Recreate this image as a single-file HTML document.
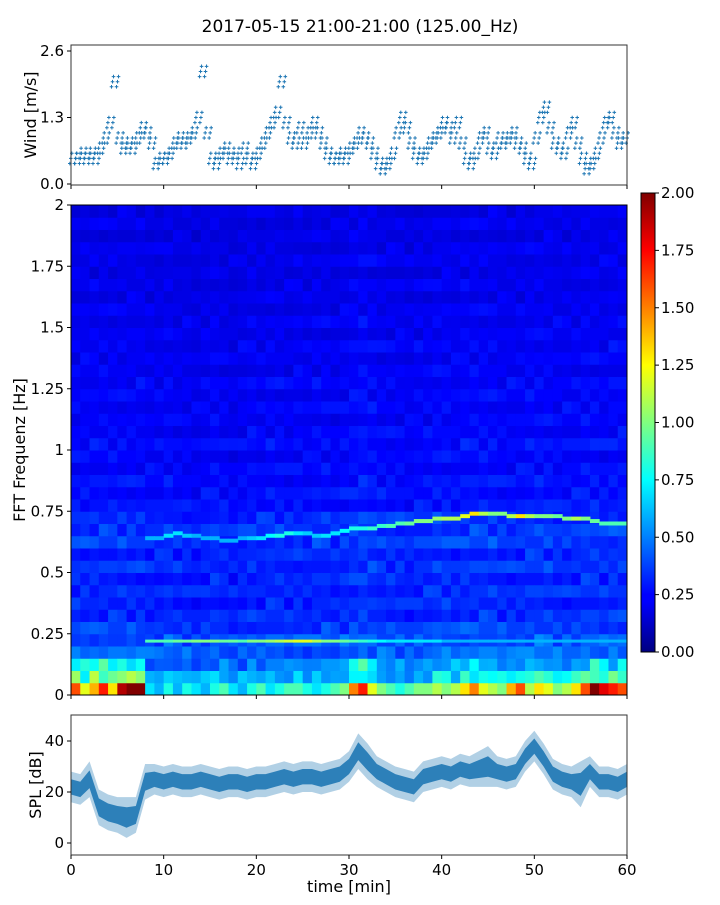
<!DOCTYPE html>
<html><head><meta charset="utf-8">
<style>
html,body{margin:0;padding:0;background:#fff;}
svg text{font-family:"DejaVu Sans","Liberation Sans",sans-serif;fill:#000;}
</style></head>
<body>
<svg id="fig" width="720" height="900" xmlns="http://www.w3.org/2000/svg">
<defs>
<linearGradient id="jetg" x1="0" y1="1" x2="0" y2="0">
<stop offset="0" stop-color="#000080"/><stop offset="0.11" stop-color="#0000ff"/>
<stop offset="0.125" stop-color="#0000ff"/><stop offset="0.375" stop-color="#00ffff"/>
<stop offset="0.625" stop-color="#ffff00"/><stop offset="0.875" stop-color="#ff0000"/>
<stop offset="1" stop-color="#800000"/></linearGradient>
</defs>
<text x="360" y="32" font-size="17" text-anchor="middle">2017-05-15 21:00-21:00 (125.00_Hz)</text>
<g id="topPanel"></g>
<g id="spec"></g>
<g id="cbar"></g>
<g id="bot"></g>
</svg>
<script>
// ---- data ----
const windValues=[0.5,0.5,0.6,0.5,0.6,0.5,0.7,0.9,1.2,2.0,0.9,0.7,0.8,0.7,0.9,1.1,1.0,0.8,0.4,0.5,
0.5,0.6,0.8,0.9,0.8,0.9,1.0,1.3,2.2,1.0,0.5,0.4,0.6,0.7,0.5,0.6,0.4,0.7,0.5,0.4,
0.6,0.8,1.0,1.2,1.4,2.0,1.2,0.9,0.8,1.1,0.8,1.0,1.2,1.0,0.8,0.6,0.5,0.5,0.6,0.5,
0.7,0.8,1.0,0.9,0.8,0.6,0.4,0.3,0.4,0.6,1.0,1.3,1.1,0.8,0.6,0.5,0.6,0.8,0.9,1.0,
1.2,1.1,0.9,1.2,0.8,0.5,0.4,0.6,0.9,1.0,0.7,0.6,0.9,0.8,0.9,1.0,0.8,0.7,0.5,0.4,
0.9,1.3,1.5,1.1,0.8,0.7,0.6,1.0,1.2,0.8,0.5,0.3,0.4,0.6,0.9,1.2,1.3,1.0,0.8,0.9];
const windTicks=[0.0,1.3,2.6];
const freqProfile=[1.0,0.6,0.5,0.42,0.4,0.35,0.33,0.32,0.33,0.32,0.34,0.32,0.36,0.35,0.34,0.28,0.28,0.27,0.26,0.25,
0.27,0.25,0.24,0.25,0.24,0.25,0.23,0.23,0.24,0.22,0.23,0.22,0.21,0.22,0.2,0.22,0.21,0.2,0.21,0.2];
const rowTexture=[1.0,1.1,0.9,1.15,0.85,1.05,0.95,1.2,0.8,1.1,1.0,0.9,1.15,0.85,1.0,1.1,0.9,1.05,0.8,1.2,
0.95,1.0,0.85,1.1,1.0,0.9,1.15,0.8,1.05,1.0,0.9,1.1,0.85,1.0,1.2,0.9,1.0,0.95,1.1,0.85];
const timeGain=[1.0,1.0,1.0,1.0,1.0,1.0,1.0,1.0,0.95,0.95,1.0,0.95,0.95,0.9,0.95,1.0,0.95,0.9,0.95,1.0,
0.95,1.0,1.0,0.95,1.0,0.95,1.0,1.0,0.95,1.0,1.05,1.1,1.05,1.0,1.0,1.0,0.95,1.0,1.0,1.05,
1.05,1.0,1.05,1.05,1.05,1.05,1.0,1.0,1.0,1.05,1.05,1.05,1.0,1.0,1.0,1.05,1.05,1.0,1.05,1.05];
const lowGain=[1.6,1.5,1.7,1.7,1.6,1.7,1.6,1.7,1.0,1.0,1.0,1.0,1.0,0.95,0.95,1.0,1.0,0.95,0.95,1.0,
1.0,1.0,1.0,1.0,1.05,1.0,1.0,1.0,1.05,1.1,1.3,1.4,1.2,1.1,1.0,1.0,1.0,1.05,1.1,1.1,
1.15,1.2,1.25,1.3,1.25,1.2,1.15,1.2,1.25,1.3,1.3,1.2,1.15,1.1,1.2,1.3,1.4,1.35,1.3,1.35];
const ridgeFreq=[0,0,0,0,0,0,0,0,0.64,0.64,0.65,0.66,0.65,0.65,0.64,0.64,0.63,0.63,0.64,0.64,
0.64,0.65,0.65,0.66,0.66,0.66,0.65,0.65,0.66,0.67,0.68,0.68,0.68,0.69,0.69,0.70,0.70,0.71,0.71,0.72,
0.72,0.72,0.73,0.74,0.74,0.74,0.74,0.73,0.73,0.73,0.73,0.73,0.73,0.72,0.72,0.72,0.71,0.70,0.70,0.70];
const ridgeLevel=[0,0,0,0,0,0,0,0,0.6,0.6,0.7,0.7,0.65,0.6,0.6,0.6,0.6,0.6,0.6,0.65,
0.7,0.75,0.8,0.8,0.7,0.65,0.65,0.7,0.7,0.75,0.8,0.8,0.85,0.85,0.9,0.9,0.95,1.0,1.0,1.05,
1.1,1.1,1.2,1.3,1.1,1.0,1.0,1.1,1.3,1.1,1.0,1.0,0.95,1.0,1.1,1.0,0.95,0.9,0.9,0.9];
const lowRidgeLevel=[0,0,0,0,0,0,0,0,0.9,0.9,0.9,0.95,0.95,1.0,1.0,1.0,0.95,0.95,0.9,1.0,
1.0,1.05,1.1,1.15,1.2,1.2,1.1,1.0,1.0,0.95,0.9,0.85,0.8,0.75,0.7,0.7,0.7,0.7,0.7,0.7,
0.6,0.6,0.6,0.6,0.6,0.6,0.6,0.6,0.6,0.6,0.6,0.6,0.6,0.6,0.6,0.6,0.6,0.6,0.6,0.6];
const bottomRow=[1.6,1.2,1.4,1.7,1.3,1.9,2.0,2.0,0.7,0.6,0.8,0.6,0.8,0.7,0.6,0.8,0.9,0.7,0.6,0.8,
0.9,0.7,0.8,0.9,0.9,0.8,0.7,0.8,0.9,1.0,1.5,1.7,1.2,1.0,0.9,0.8,0.9,1.0,1.0,1.1,
1.0,1.1,1.3,1.5,1.2,1.1,1.0,1.4,1.6,1.1,1.3,1.2,1.0,1.1,1.3,1.6,2.0,1.8,1.7,1.6];
const freqTicks=[0,0.25,0.5,0.75,1,1.25,1.5,1.75,2];
const freqTickLabels=["0","0.25","0.5","0.75","1","1.25","1.5","1.75","2"];
const cbarTicks=[0,0.25,0.5,0.75,1,1.25,1.5,1.75,2];
const splMean=[22,21,25,14,12,11,10,11,24,25,24,25,24,24,25,24,23,24,24,23,24,24,25,26,25,26,26,25,26,27,
30,36,32,28,26,24,23,22,26,27,28,27,29,28,29,30,28,27,28,34,38,33,27,25,24,23,28,24,24,23,25];
const splHalf=[6,6,7,7,7,7,8,7,7,6,6,6,6,6,6,6,6,6,6,6,6,6,6,6,6,6,6,6,6,6,
6,7,7,6,6,6,6,6,6,6,6,6,6,6,7,8,6,6,6,6,6,6,6,6,6,9,6,6,6,6,6];
const splTicks=[0,20,40];
const timeTicks=[0,10,20,30,40,50,60];

// ---- helpers ----
const NS="http://www.w3.org/2000/svg";
function mk(tag,attrs,parent){const e=document.createElementNS(NS,tag);for(const k in attrs)e.setAttribute(k,attrs[k]);parent.appendChild(e);return e;}
const X0=71,X1=627;
const xT=t=>X0+t*(X1-X0)/60;
const yW=v=>184-v*(184-51)/2.6;
const yF=f=>695-f*(695-205)/2;
const yS=v=>843-v*(843-741)/40;
const CB0=652,CB1=193;
const yC=v=>CB0-v*(CB0-CB1)/2;
function jet(v){let t=Math.max(0,Math.min(1,v/2));
 const c=x=>Math.max(0,Math.min(1,x));
 const r=c(1.5-Math.abs(4*t-3)),g=c(1.5-Math.abs(4*t-2)),b=c(1.5-Math.abs(4*t-1));
 return `rgb(${Math.round(r*255)},${Math.round(g*255)},${Math.round(b*255)})`;}
function txt(parent,x,y,s,size,anchor){const e=mk('text',{x:x,y:y,'font-size':size,'text-anchor':anchor||'middle'},parent);e.textContent=s;return e;}

// ---- top wind panel ----
const topG=document.getElementById('topPanel');
const wpts=mk('g',{},topG);


windValues.forEach((v,i)=>{
 const x=xT(i*0.5+0.25);
 [-0.1,0,0.1].forEach((d,j)=>{
  [-2.5,2.5].forEach(dx=>{
   const yy=yW(Math.max(0.05,v+d));const xx=x+dx+j-1;
   mk('path',{d:`M${xx-1.8},${yy}h3.6M${xx},${yy-1.8}v3.6`,stroke:'#1f77b4','stroke-width':1},wpts);
  });
 });
});
const tf=mk('rect',{x:X0,y:45,width:X1-X0,height:140,fill:'none',stroke:'#333','stroke-width':1},topG);


windTicks.forEach(v=>{mk('line',{x1:X0-4,x2:X0,y1:yW(v),y2:yW(v),stroke:'#000'},topG);
 const t=txt(topG,X0-7,yW(v)+5,v.toFixed(1),15,'end');
 
 });
timeTicks.forEach(v=>mk('line',{x1:xT(v),x2:xT(v),y1:185,y2:189,stroke:'#000'},topG));
const wl=txt(topG,0,0,'Wind [m/s]',16);wl.setAttribute('transform','translate(36,115) rotate(-90)');



// ---- spectrogram ----
const spec=document.getElementById('spec');
const cells=mk('g',{},spec);


const nR=freqProfile.length,nC=timeGain.length,cw=(X1-X0)/nC;
for(let c=0;c<nC;c++){for(let r=0;r<nR;r++){
 const f=(r+0.5)*2/nR;
 let v=freqProfile[r]*timeGain[c]*rowTexture[(r+c*7)%nR];
 if(f<0.15)v*=lowGain[c]; else if(f<0.3)v*=1.05;
 if(r===0)v=bottomRow[c];
 const y0=yF((r+1)*2/nR),y1=yF(r*2/nR);
 mk('rect',{x:X0+c*cw,y:y0,width:cw+0.5,height:y1-y0+0.5,fill:jet(v)},cells);
}}
const ridges=mk('g',{},spec);


for(let c=0;c<nC;c++){
 if(ridgeLevel[c]>0){const y=yF(ridgeFreq[c]);mk('rect',{x:X0+c*cw,y:y-2,width:cw+0.5,height:4,fill:jet(ridgeLevel[c])},ridges);}
 if(lowRidgeLevel[c]>0){const y=yF(0.22);mk('rect',{x:X0+c*cw,y:y-1.5,width:cw+0.5,height:3,fill:jet(lowRidgeLevel[c])},ridges);}
}
const sf=mk('rect',{x:X0,y:205,width:X1-X0,height:490,fill:'none',stroke:'#000','stroke-width':1},spec);


freqTicks.forEach((v,i)=>{mk('line',{x1:X0-4,x2:X0,y1:yF(v),y2:yF(v),stroke:'#000'},spec);
 const t=txt(spec,X0-7,yF(v)+5,freqTickLabels[i],15,'end');
 
 });
timeTicks.forEach(v=>mk('line',{x1:xT(v),x2:xT(v),y1:695,y2:699,stroke:'#000'},spec));
const fl=txt(spec,0,0,'FFT Frequenz [Hz]',16);fl.setAttribute('transform','translate(25,450) rotate(-90)');



// ---- colorbar ----
const cb=document.getElementById('cbar');
const cbr=mk('rect',{x:641,y:CB1,width:14,height:CB0-CB1,fill:'url(#jetg)',stroke:'#000','stroke-width':1},cb);


cbarTicks.forEach(v=>{mk('line',{x1:655,x2:659,y1:yC(v),y2:yC(v),stroke:'#000'},cb);
 const t=txt(cb,661,yC(v)+5,v.toFixed(2),15,'start');
 
 });

// ---- SPL panel ----
const bot=document.getElementById('bot');
let up='',dn='';
splMean.forEach((v,i)=>{up+=(i?'L':'M')+xT(i)+','+yS(v+splHalf[i]);});
for(let i=splMean.length-1;i>=0;i--){dn+='L'+xT(i)+','+yS(splMean[i]-splHalf[i]);}
const band=mk('path',{d:up+dn+'Z',fill:'#1f77b4','fill-opacity':0.35,stroke:'none'},bot);


let inner='',inner2='';
splMean.forEach((v,i)=>{inner+=(i?'L':'M')+xT(i)+','+yS(v+splHalf[i]*0.5);});
for(let i=splMean.length-1;i>=0;i--){inner2+='L'+xT(i)+','+yS(splMean[i]-splHalf[i]*0.5);}
const core=mk('path',{d:inner+inner2+'Z',fill:'#1f77b4','fill-opacity':0.9,stroke:'none'},bot);


const bf=mk('rect',{x:X0,y:715,width:X1-X0,height:140,fill:'none',stroke:'#333','stroke-width':1},bot);


splTicks.forEach(v=>{mk('line',{x1:X0-4,x2:X0,y1:yS(v),y2:yS(v),stroke:'#000'},bot);
 const t=txt(bot,X0-7,yS(v)+5,String(v),15,'end');
 
 });
timeTicks.forEach(v=>{mk('line',{x1:xT(v),x2:xT(v),y1:855,y2:859,stroke:'#000'},bot);
 const t=txt(bot,xT(v),875,String(v),15);
 
 });
const sl=txt(bot,0,0,'SPL [dB]',16);sl.setAttribute('transform','translate(41,785) rotate(-90)');


const xl=txt(bot,349,892,'time [min]',16);


</script>
</body></html>
